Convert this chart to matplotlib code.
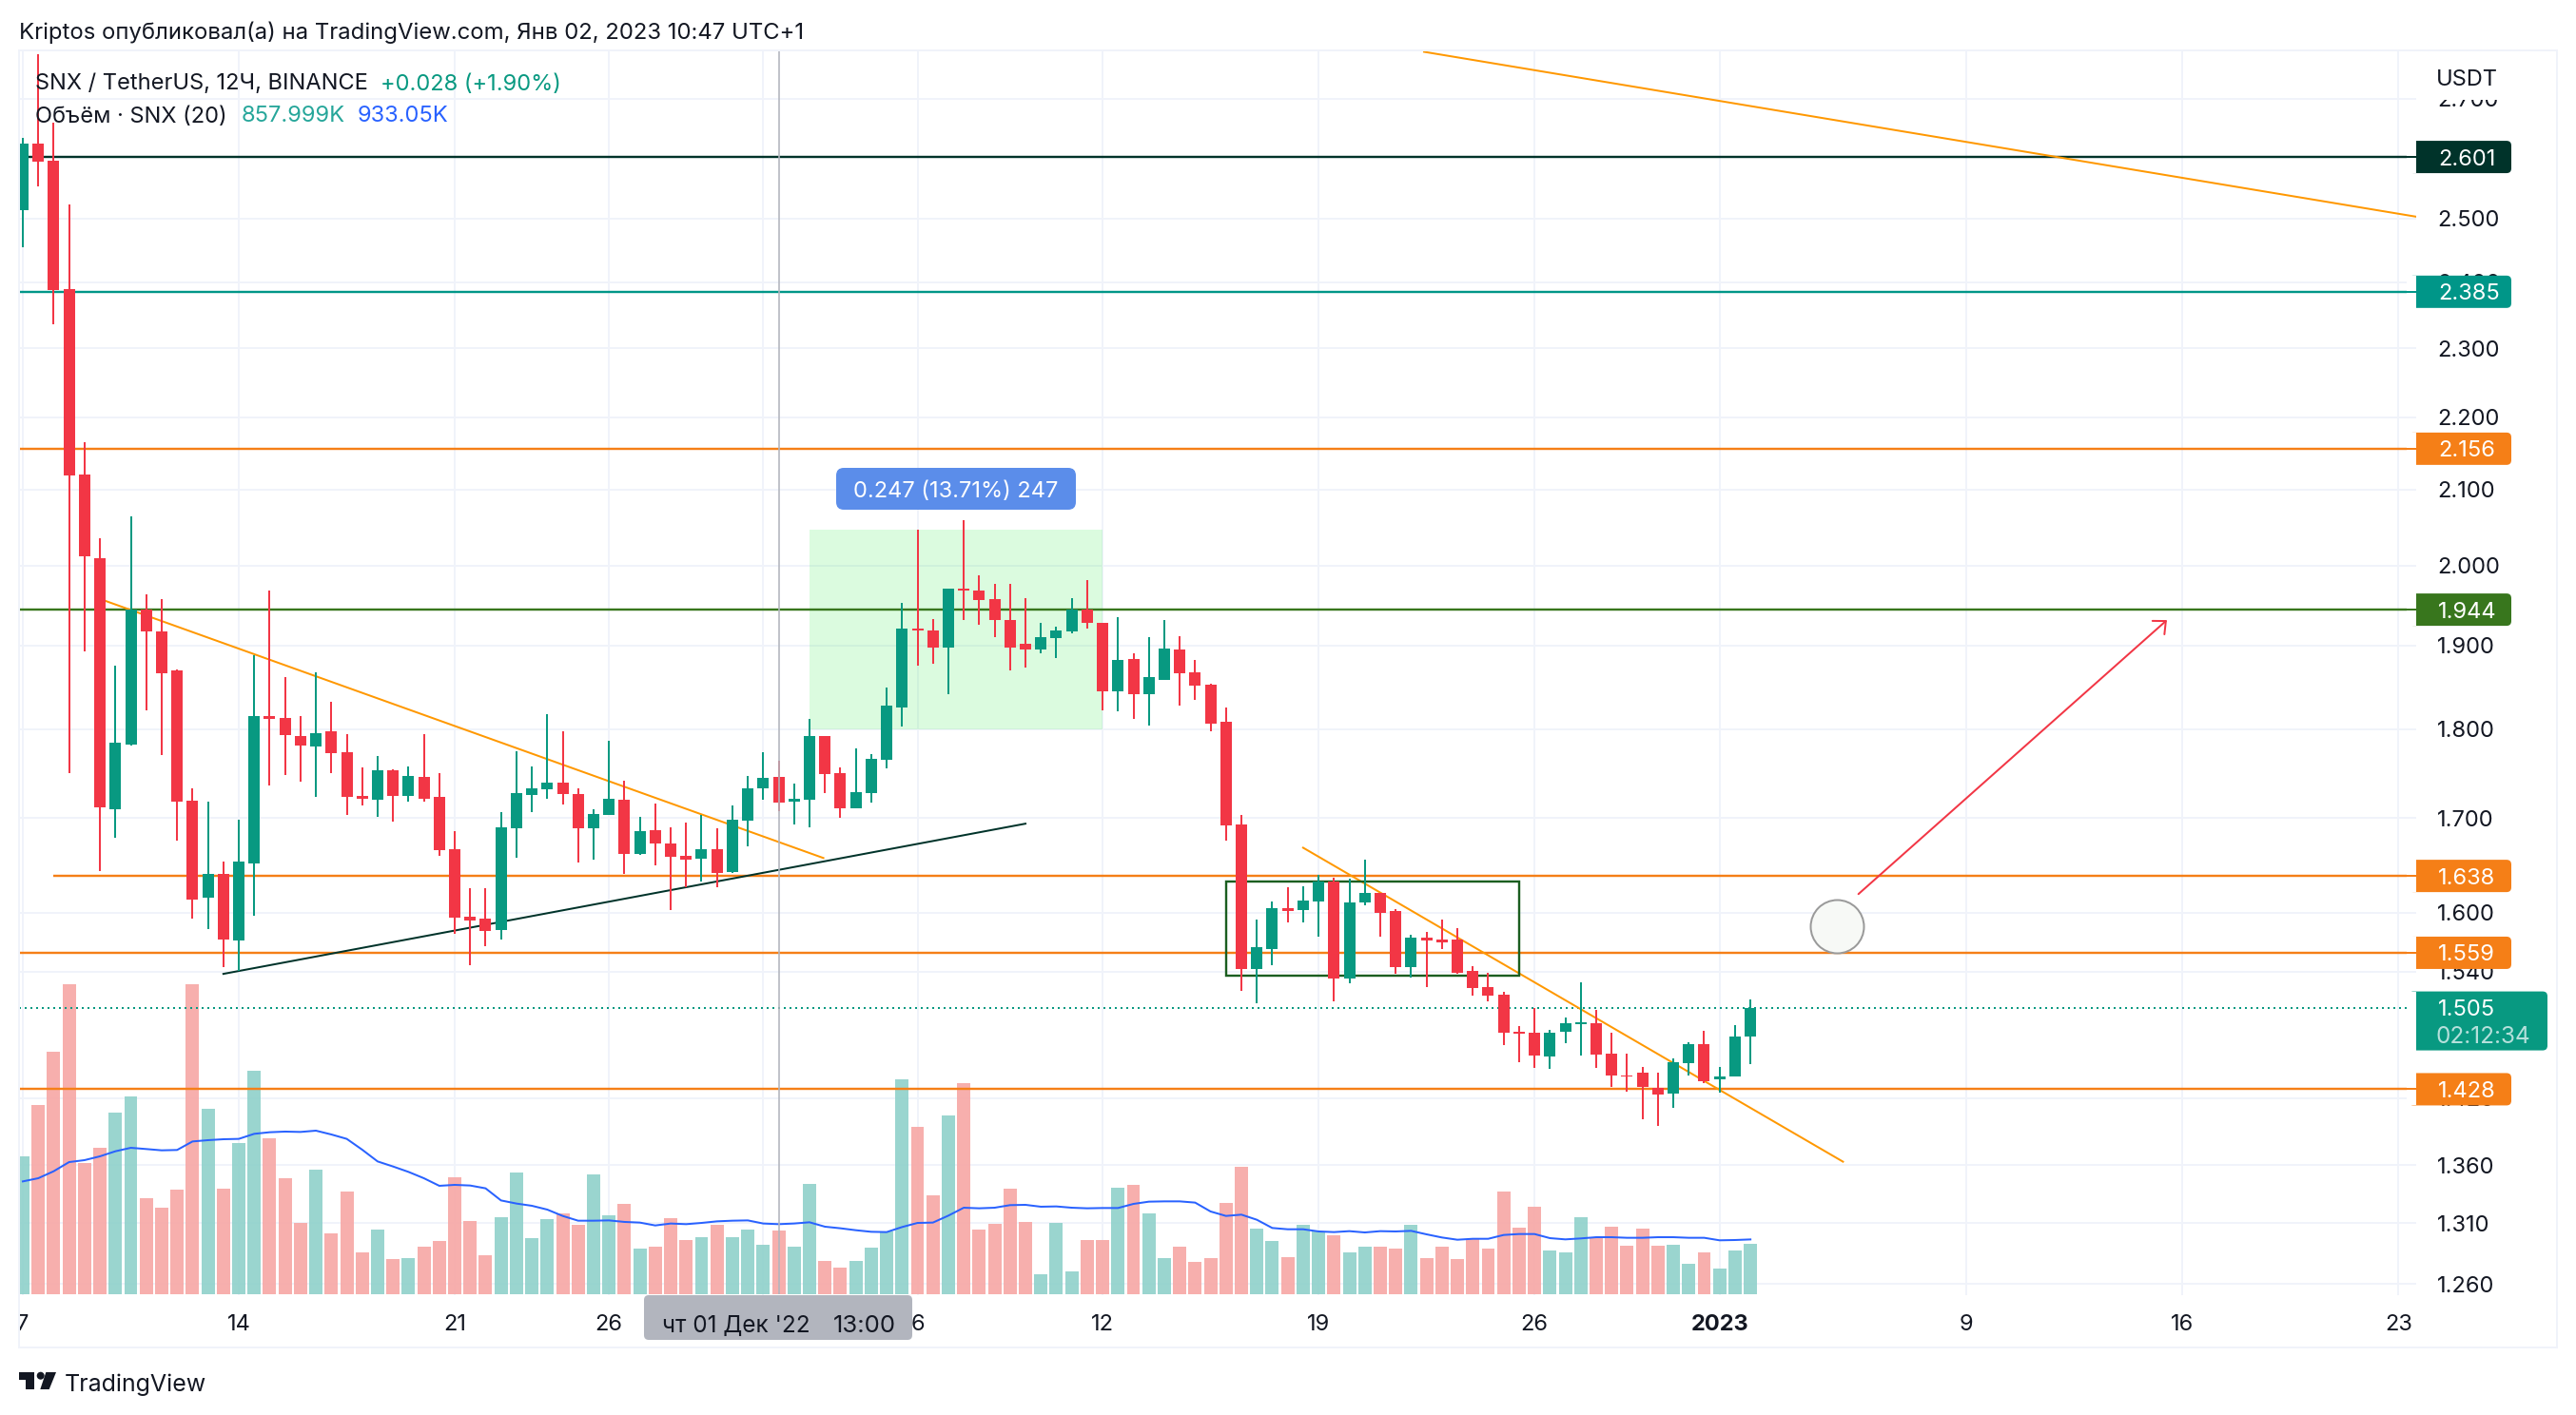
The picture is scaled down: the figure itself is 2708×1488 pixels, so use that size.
import matplotlib
matplotlib.use("Agg")
import matplotlib.pyplot as plt
from matplotlib.patches import Rectangle, FancyBboxPatch, Polygon, Circle

plt.rcParams['font.family'] = ['Inter', 'DejaVu Sans']

W, H = 2708, 1488
PT = 0.72  # points per output pixel

opens = [2.514,2.623,2.595,2.389,2.120,2.010,1.710,1.782,1.944,1.917,1.870,1.719,1.615,1.640,1.571,1.651,
         1.815,1.813,1.792,1.780,1.798,1.774,1.724,1.720,1.753,1.724,1.746,1.723,1.666,1.596,1.594,1.582,
         1.689,1.726,1.732,1.739,1.727,1.689,1.704,1.720,1.661,1.687,1.673,1.659,1.656,1.666,1.642,1.697,
         1.733,1.746,1.718,1.720,1.792,1.750,1.711,1.728,1.765,1.825,1.920,1.918,1.897,1.970,1.968,1.957,
         1.931,1.902,1.895,1.909,1.917,1.944,1.928,1.844,1.883,1.841,1.858,1.895,1.867,1.852,1.809,1.693,
         1.543,1.563,1.604,1.602,1.611,1.632,1.533,1.610,1.620,1.601,1.545,1.574,1.572,1.572,1.541,1.525,
         1.518,1.482,1.481,1.458,1.482,1.489,1.490,1.461,1.441,1.443,1.429,1.424,1.452,1.470,1.437,1.440,1.477]
highs = [2.633,2.779,2.659,2.523,2.165,2.035,1.875,2.064,1.963,1.957,1.871,1.733,1.718,1.653,1.698,1.888,
         1.968,1.862,1.815,1.867,1.832,1.794,1.756,1.769,1.754,1.757,1.794,1.750,1.686,1.625,1.625,1.707,
         1.775,1.758,1.818,1.798,1.733,1.710,1.787,1.741,1.701,1.716,1.690,1.695,1.704,1.689,1.714,1.747,
         1.774,1.764,1.738,1.812,1.792,1.756,1.778,1.772,1.849,1.952,2.046,1.932,1.971,2.059,1.987,1.977,
         1.976,1.958,1.927,1.923,1.959,1.981,1.928,1.935,1.890,1.910,1.931,1.911,1.882,1.853,1.825,1.704,
         1.593,1.611,1.626,1.627,1.639,1.636,1.635,1.655,1.620,1.603,1.577,1.580,1.593,1.584,1.546,1.539,
         1.520,1.487,1.505,1.484,1.495,1.530,1.503,1.481,1.461,1.449,1.443,1.457,1.472,1.483,1.449,1.488,1.513]
lows = [2.455,2.552,2.335,1.750,1.893,1.643,1.679,1.781,1.822,1.770,1.676,1.594,1.583,1.545,1.541,1.597,
        1.736,1.748,1.740,1.723,1.750,1.704,1.714,1.701,1.696,1.718,1.718,1.659,1.578,1.547,1.566,1.572,
        1.657,1.707,1.721,1.715,1.652,1.655,1.703,1.640,1.660,1.649,1.602,1.626,1.632,1.626,1.641,1.669,
        1.720,1.708,1.693,1.690,1.728,1.700,1.711,1.717,1.755,1.803,1.875,1.878,1.841,1.931,1.925,1.910,
        1.869,1.873,1.890,1.884,1.915,1.921,1.822,1.821,1.812,1.804,1.858,1.828,1.834,1.798,1.676,1.521,
        1.509,1.547,1.590,1.590,1.575,1.511,1.529,1.607,1.575,1.538,1.534,1.525,1.563,1.538,1.517,1.511,
        1.469,1.453,1.448,1.447,1.471,1.459,1.448,1.430,1.426,1.401,1.395,1.411,1.441,1.434,1.425,1.440,1.451]
closes = [2.623,2.593,2.387,2.119,2.012,1.712,1.785,1.944,1.917,1.866,1.718,1.613,1.640,1.572,1.653,1.815,
          1.812,1.793,1.781,1.796,1.773,1.723,1.721,1.753,1.724,1.747,1.721,1.665,1.595,1.592,1.581,1.690,
          1.728,1.733,1.739,1.727,1.689,1.705,1.721,1.661,1.686,1.673,1.658,1.655,1.666,1.641,1.698,1.733,
          1.745,1.717,1.721,1.792,1.749,1.711,1.729,1.766,1.828,1.921,1.918,1.897,1.970,1.968,1.956,1.931,
          1.897,1.895,1.910,1.918,1.944,1.927,1.844,1.882,1.841,1.861,1.896,1.866,1.851,1.807,1.692,1.543,
          1.565,1.604,1.601,1.612,1.632,1.533,1.610,1.620,1.600,1.545,1.574,1.571,1.569,1.539,1.524,1.517,
          1.481,1.480,1.459,1.481,1.490,1.491,1.460,1.441,1.440,1.430,1.423,1.453,1.470,1.435,1.440,1.477,1.505]
# volume, thousands
volumes = [2348,3222,4129,5278,2234,2493,3093,3368,1635,1473,1781,5278,3157,1797,2574,3805,2655,1975,1214,2121,
           1036,1749,712,1101,599,615,810,907,1991,1247,664,1311,2072,955,1279,1376,1182,2040,1344,1538,
           777,810,1295,923,971,1182,971,1101,842,1085,810,1878,567,453,567,793,1069,3659,2850,1684,
           3044,3594,1101,1198,1797,1231,340,1214,389,923,923,1813,1862,1376,615,810,550,615,1554,2170,
           1117,907,631,1182,1069,1004,712,810,810,777,1182,615,810,599,939,777,1749,1133,1490,745,
           712,1311,971,1150,826,1117,826,842,518,712,437,745,858]
vol_ma = [1921,1975,2094,2250,2283,2348,2434,2493,2472,2450,2456,2601,2623,2639,2645,2731,2758,2769,2763,2785,
          2720,2645,2461,2261,2175,2083,1975,1846,1862,1851,1803,1597,1544,1506,1441,1333,1252,1252,1257,1231,
          1220,1171,1204,1193,1214,1241,1252,1257,1204,1193,1204,1225,1150,1123,1090,1063,1058,1144,1214,1220,
          1338,1473,1463,1473,1517,1522,1490,1495,1473,1463,1468,1468,1538,1576,1581,1581,1560,1409,1333,1355,
          1268,1128,1106,1106,1069,1058,1074,1052,1074,1069,1079,1020,966,928,944,944,1009,1025,1025,955,
          934,950,971,971,961,961,971,971,961,961,918,923,933]

y_ticks = [2.700,2.500,2.400,2.300,2.200,2.100,2.000,1.900,1.800,1.700,1.600,1.540,1.420,1.360,1.310,1.260]
x_tick_pos = [0,14,28,38,48,58,70,84,98,110,126,140,154]
x_tick_labels = ['7','14','21','26','Дек','6','12','19','26','2023','9','16','23']

level_prices = [2.601,2.385,2.156,1.944,1.638,1.559,1.428]
level_colors = ['#00332a','#009688','#f57f17','#38761d','#f57f17','#f57f17','#f57f17']
level_starts = [None,None,None,None,2,None,None]
last_price = 1.505

RED, TEAL = '#f23645', '#089981'
VRED, VTEAL = '#f7a9a7', '#92d2cc'
GRID = '#f0f3fa'
TREND = '#ff9800'
LABEL = '#131722'

fig = plt.figure(figsize=(W/100, H/100), dpi=100, facecolor='white')
L, R, T, B = 20, 2540, 53, 1361
SHIFT = 1.2
pos_price = [L/W, 1-(B+SHIFT)/H, (R-L)/W, (B-T)/H]
pos_vol = [L/W, 1-B/H, (R-L)/W, (B-T)/H]
xlim = (-0.247, 155.16)
ylim = (1.2507, 2.7835)

ax_g = fig.add_axes(pos_price, zorder=0)
ax_v = fig.add_axes(pos_vol, zorder=1)
ax = fig.add_axes(pos_price, zorder=2)
ax_m = fig.add_axes(pos_vol, zorder=3)

# ---- background axes: grid and tick labels
ax_g.set_yscale('log')
ax_g.set_xlim(*xlim); ax_g.set_ylim(*ylim)
ax_g.set_yticks(y_ticks)
ax_g.set_yticklabels([f'{v:.3f}' for v in y_ticks])
ax_g.minorticks_off()
ax_g.yaxis.tick_right()
ax_g.tick_params(axis='y', length=0, pad=22*PT, labelsize=17, labelcolor=LABEL)
ax_g.set_xticks(x_tick_pos)
ax_g.set_xticklabels(x_tick_labels)
ax_g.tick_params(axis='x', length=0, pad=20*PT, labelsize=17, labelcolor=LABEL)
ax_g.get_xticklabels()[9].set_fontweight('bold')
ax_g.grid(True, color=GRID, lw=2*PT)
ax_g.set_axisbelow(True)
for s in ax_g.spines.values():
    s.set_visible(False)

# ---- volume
ax_v.set_xlim(*xlim); ax_v.set_ylim(0, 21177)
ax_v.patch.set_visible(False); ax_v.axis('off')
vx = list(range(len(volumes)))
vcols = [VTEAL if c >= o else VRED for o, c in zip(opens, closes)]
ax_v.bar(vx, volumes, width=0.86, color=vcols, alpha=0.93, linewidth=0)

# ---- price pane
ax.set_yscale('log')
ax.set_xlim(*xlim); ax.set_ylim(*ylim)
ax.patch.set_visible(False); ax.axis('off')

ax.add_patch(Rectangle((51, 1.800), 19, 0.246, facecolor=(0.30, 0.93, 0.38, 0.20), edgecolor='none', zorder=1))

for p, c, st in zip(level_prices, level_colors, level_starts):
    ax.plot([xlim[0] if st is None else st, xlim[1]], [p, p], color=c, lw=2.4*PT, zorder=2, solid_capstyle='butt')
ax.plot([xlim[0], xlim[1]], [last_price, last_price], color=TEAL, lw=2*PT, ls=(0, (1, 2)), zorder=2,
        dash_capstyle='butt')

ax.plot([5.35, 51.9], [1.955, 1.657], color=TREND, lw=2*PT, zorder=2)
ax.plot([13, 65], [1.538, 1.694], color='#00332a', lw=2*PT, zorder=2)
ax.plot([90.84, 155.16], [2.783, 2.503], color=TREND, lw=2*PT, zorder=2)
ax.plot([83, 118], [1.668, 1.363], color=TREND, lw=2*PT, zorder=2)
ax.add_patch(Rectangle((78, 1.536), 19, 0.096, facecolor='none', edgecolor='#1b5e20', lw=2.4*PT, zorder=2))

ax.annotate('', xy=(139, 1.931), xytext=(119, 1.619),
            arrowprops=dict(arrowstyle='->,head_length=0.75,head_width=0.68', mutation_scale=10, color=RED,
                            lw=2*PT, shrinkA=0, shrinkB=0), zorder=2)
ax.scatter([117.6], [1.586], s=(56*PT)**2, facecolor='#f7f9f6', edgecolor='#9a9a9a', linewidth=2*PT, zorder=2)

x = list(range(len(opens)))
ccols = [TEAL if c >= o else RED for o, c in zip(opens, closes)]
ax.vlines(x, lows, highs, colors=ccols, lw=2*PT, zorder=3)
ax.bar(x, [abs(c-o) for o, c in zip(opens, closes)], bottom=[min(o, c) for o, c in zip(opens, closes)],
       width=0.74, color=ccols, linewidth=0, zorder=4)

ax_m.set_xlim(*xlim); ax_m.set_ylim(0, 21177)
ax_m.patch.set_visible(False); ax_m.axis('off')
ax_m.plot(vx, vol_ma, color='#2962ff', lw=2*PT)
ax_m.axvline(49, color='#b2b5be', lw=1.6*PT)

# ---- overlay helpers in page pixels
def rect(x0, y0, x1, y1, color, z=5, **kw):
    fig.add_artist(Rectangle((x0/W, 1-y1/H), (x1-x0)/W, (y1-y0)/H, transform=fig.transFigure,
                             facecolor=color, edgecolor='none', zorder=z, **kw))

def rbox(x0, y0, x1, y1, color, z=5, r=5):
    fig.add_artist(FancyBboxPatch((x0+r, H-y1+r), x1-x0-2*r, y1-y0-2*r,
                                  boxstyle=f'round,pad={r},rounding_size={r}', transform=None,
                                  facecolor=color, edgecolor='none', zorder=z))

def txt(x0, y0, s, color=LABEL, size=17, ha='left', z=7, **kw):
    fig.text(x0/W, 1-y0/H, s, color=color, fontsize=size, ha=ha, va='center_baseline', zorder=z, **kw)

# hide top of 2.700 and left of "7"
rect(2541, 54, 2687, 105, 'white')
rect(0, 1365, 19, 1416, 'white')

# frame
for c in [(20, 52, 2688, 54), (20, 1416, 2688, 1418), (19, 52, 21, 1418), (2687, 52, 2689, 1418)]:
    rect(*c, GRID, z=6)

txt(2561, 81, 'USDT', size=17)

# level labels
def ypx(p):
    return H - ax.transData.transform((0, p))[1]

for p, c in zip(level_prices, level_colors):
    y = ypx(p)
    rbox(2532, y-17, 2640, y+17, c)
    rect(2530, y-17, 2540, y+17, 'white', z=5.1)
    txt(2563, y, f'{p:.3f}', color='white')
    rect(2530, y-1, 2540, y+1, c, z=5.2)

y = ypx(last_price)
rbox(2532, y-17, 2678, y+45, TEAL)
rect(2530, y-17, 2540, y+45, 'white', z=5.1)
txt(2563, y, f'{last_price:.3f}', color='white')
txt(2561, y+28, '02:12:34', color='#b5e0db', size=17.5)

# crosshair date label
rbox(677, 1362, 959, 1409, '#b2b5be')
txt(696, 1392, "чт 01 Дек '22", size=17.5)
txt(876, 1392, '13:00', size=18.5)

# measure label
rbox(879, 492, 1131, 536, '#5b8dea', r=8)
txt(1005, 514, '0.247 (13.71%) 247', color='white', ha='center', size=17)

# header and legend
txt(20, 32, 'Kriptos опубликовал(а) на TradingView.com, Янв 02, 2023 10:47 UTC+1', size=17.2)
txt(37, 86, 'SNX / TetherUS, 12Ч, BINANCE', size=17)
txt(400, 86, '+0.028 (+1.90%)', color=TEAL, size=17)
txt(37, 120, 'Объём · SNX (20)', size=17)
txt(254, 120, '857.999K', color='#26a69a', size=17)
txt(376, 120, '933.05K', color='#2962ff', size=17)

# logo
rect(20, 1443, 36, 1451, LABEL)
rect(27.3, 1451, 36, 1461, LABEL)
fig.add_artist(Circle((42.7, H-1446.7), 4, transform=None, facecolor=LABEL, edgecolor='none', zorder=5))
fig.add_artist(Polygon([(48.3, H-1443), (59, H-1443), (51.7, H-1461), (42.3, H-1461)], closed=True, transform=None,
                       facecolor=LABEL, edgecolor='none', zorder=5))
txt(68, 1454, 'TradingView', size=18)

fig.savefig('out.png', dpi=100, facecolor='white')
